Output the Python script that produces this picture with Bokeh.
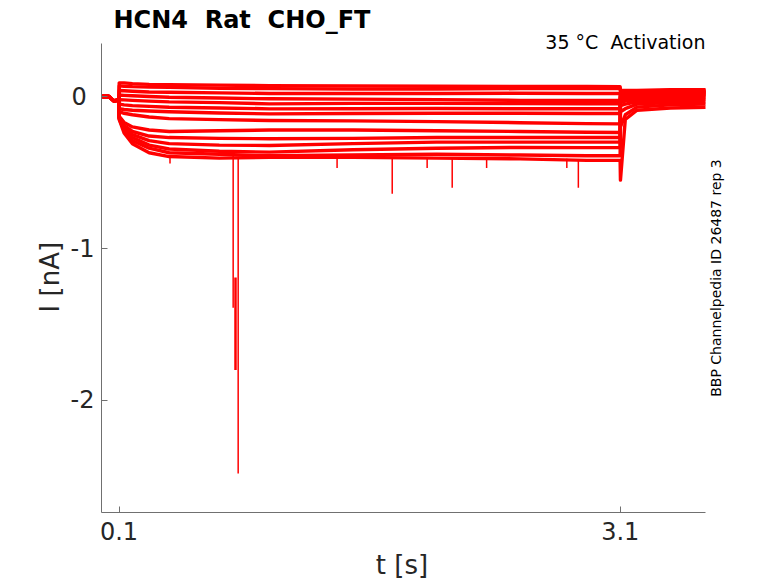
from bokeh.plotting import figure
from bokeh.models import Range1d, FixedTicker, Label, ColumnDataSource
from bokeh.embed import file_html
from bokeh.resources import INLINE
import math

# ---------------- data ----------------
# time knots (s)
pre_t = [0.0, 0.04, 0.07, 0.099]
pulse_t = [0.101, 0.13, 0.18, 0.28, 0.40, 0.70, 1.00, 1.50, 2.00, 2.50, 2.90, 3.099]
tail_t = [3.101, 3.13, 3.20, 3.40, 3.61]

# holding current before the step (nA), common to all sweeps
pre_i = [0.0, 0.0, -0.03, -0.02]

# each sweep: 12 values during the step, then 5 tail values (nA)
sweep_01 = [0.09, 0.09, 0.085, 0.08, 0.078, 0.075, 0.072, 0.07, 0.068, 0.066, 0.066, 0.065,
            0.04, 0.04, 0.04, 0.045, 0.045]
sweep_02 = [0.07, 0.068, 0.065, 0.062, 0.06, 0.055, 0.052, 0.05, 0.05, 0.052, 0.053, 0.053,
            0.035, 0.035, 0.035, 0.04, 0.04]
sweep_03 = [0.04, 0.038, 0.035, 0.03, 0.028, 0.024, 0.02, 0.02, 0.02, 0.022, 0.02, 0.02,
            0.03, 0.03, 0.03, 0.035, 0.035]
sweep_04 = [0.01, 0.008, 0.005, 0.0, -0.005, -0.01, -0.015, -0.017, -0.02, -0.025, -0.026, -0.026,
            0.025, 0.025, 0.025, 0.03, 0.03]
sweep_05 = [-0.02, -0.022, -0.025, -0.03, -0.035, -0.04, -0.048, -0.045, -0.045, -0.046, -0.047, -0.047,
            0.02, 0.02, 0.02, 0.025, 0.025]
sweep_06 = [-0.05, -0.055, -0.06, -0.065, -0.07, -0.075, -0.081, -0.08, -0.079, -0.08, -0.08, -0.08,
            0.01, 0.015, 0.015, 0.02, 0.02]
sweep_07 = [-0.08, -0.085, -0.09, -0.095, -0.1, -0.108, -0.114, -0.112, -0.11, -0.11, -0.112, -0.112,
            0.0, 0.005, 0.01, 0.015, 0.015]
sweep_08 = [-0.1, -0.11, -0.12, -0.135, -0.145, -0.152, -0.158, -0.16, -0.165, -0.172, -0.178, -0.18,
            -0.01, -0.005, 0.0, 0.005, 0.01]
sweep_09 = [-0.13, -0.17, -0.2, -0.22, -0.23, -0.225, -0.22, -0.22, -0.225, -0.23, -0.235, -0.237,
            -0.02, -0.015, -0.01, 0.0, 0.0]
sweep_10 = [-0.14, -0.19, -0.23, -0.26, -0.27, -0.275, -0.278, -0.275, -0.27, -0.27, -0.27, -0.27,
            -0.04, -0.03, -0.02, -0.01, -0.01]
sweep_11 = [-0.14, -0.2, -0.25, -0.29, -0.31, -0.32, -0.322, -0.31, -0.30, -0.30, -0.30, -0.30,
            -0.06, -0.05, -0.035, -0.025, -0.02]
sweep_12 = [-0.14, -0.21, -0.27, -0.32, -0.345, -0.36, -0.366, -0.35, -0.34, -0.335, -0.336, -0.336,
            -0.1, -0.08, -0.05, -0.04, -0.035]
sweep_13 = [-0.15, -0.22, -0.29, -0.34, -0.37, -0.38, -0.39, -0.385, -0.38, -0.385, -0.39, -0.39,
            -0.2, -0.12, -0.07, -0.055, -0.05]
sweep_14 = [-0.15, -0.24, -0.31, -0.37, -0.395, -0.405, -0.40, -0.40, -0.405, -0.41, -0.42, -0.42,
            -0.55, -0.15, -0.09, -0.075, -0.07]

# brief downward transients (time s, from nA, to nA)
spike_t = [0.405, 0.783, 0.813, 1.405, 1.735, 1.944, 2.094, 2.30, 2.78, 2.849]
spike_from = [-0.40, -0.37, -0.40, -0.40, -0.40, -0.40, -0.40, -0.40, -0.41, -0.42]
spike_to = [-0.44, -1.39, -2.48, -0.47, -0.64, -0.47, -0.60, -0.47, -0.47, -0.60]
burst_t = [0.797]
burst_from = [-1.19]
burst_to = [-1.80]

x_ticks = [0.1, 3.1]
x_tick_labels = ["0.1", "3.1"]
y_ticks = [-2, -1, 0]
y_tick_labels = ["-2", "-1", "0\u00a0"]
x_limits = (-0.005, 3.61)
y_limits = (-2.737, 0.349)

title_text = "HCN4\u00a0 Rat\u00a0 CHO_FT"
condition_text = "35 \u00b0C\u00a0 Activation"
id_text = "BBP Channelpedia ID 26487 rep 3"
x_label = "t [s]"
y_label = "I [nA]"

# ---------------- layout ----------------
FONT = "DejaVu Sans"
AX = "#707070"
TXT = "#262626"

AXES_W, AXES_H = 604, 469          # visible axes box (px)
EXTRA_TOP = 10                     # frame reaches a little above the axes box
EXTRA_RIGHT = 30                   # ... and a little right of it, for the record id
px_x = AXES_W / (x_limits[1] - x_limits[0])
px_y = AXES_H / (y_limits[1] - y_limits[0])
x_range = Range1d(x_limits[0], x_limits[1] + EXTRA_RIGHT / px_x)
y_range = Range1d(y_limits[0], y_limits[1] + EXTRA_TOP / px_y)

p = figure(frame_width=AXES_W + EXTRA_RIGHT, frame_height=AXES_H + EXTRA_TOP,
           min_border_left=101, min_border_right=72 - EXTRA_RIGHT,
           min_border_top=43 - EXTRA_TOP, min_border_bottom=70,
           x_range=x_range, y_range=y_range,
           output_backend="svg", toolbar_location=None)
p.xgrid.visible = False
p.ygrid.visible = False
p.outline_line_color = None
p.background_fill_color = "white"
p.border_fill_color = "white"

p.title.text = title_text
p.title.align = "left"
p.title.offset = 12
p.title.standoff = 0
p.title.text_font = FONT
p.title.text_font_size = "24px"
p.title.text_font_style = "bold"
p.title.text_color = "#000000"

sweeps = [sweep_01, sweep_02, sweep_03, sweep_04, sweep_05, sweep_06, sweep_07,
          sweep_08, sweep_09, sweep_10, sweep_11, sweep_12, sweep_13, sweep_14]
full_t = pre_t + pulse_t + tail_t
src = ColumnDataSource(dict(xs=[full_t for _ in sweeps], ys=[pre_i + s for s in sweeps]))
p.multi_line(xs="xs", ys="ys", source=src, line_color="#ff0000", line_width=3.4,
             line_join="round")
p.segment(x0=spike_t, y0=spike_from, x1=spike_t, y1=spike_to, line_color="#ff0000", line_width=1.5)
p.segment(x0=burst_t, y0=burst_from, x1=burst_t, y1=burst_to, line_color="#ff0000", line_width=2.5)

for ax in (p.xaxis[0], p.yaxis[0]):
    ax.axis_line_color = AX
    ax.major_tick_line_color = AX
    ax.minor_tick_line_color = None
    ax.major_tick_in = 6
    ax.major_tick_out = 0
    ax.major_label_text_font = FONT
    ax.major_label_text_font_size = "24px"
    ax.major_label_text_color = TXT
    ax.axis_label_text_font = FONT
    ax.axis_label_text_font_size = "26px"
    ax.axis_label_text_font_style = "normal"
    ax.axis_label_text_color = TXT

p.xaxis.ticker = FixedTicker(ticks=x_ticks)
p.xaxis.major_label_overrides = {t: l for t, l in zip(x_ticks, x_tick_labels)}
p.xaxis.major_label_standoff = 9
p.xaxis.bounds = x_limits
p.xaxis.axis_label = x_label + "\u00a0\u00a0\u00a0\u00a0"
p.xaxis.axis_label_standoff = 7

p.yaxis.ticker = FixedTicker(ticks=y_ticks)
p.yaxis.major_label_overrides = {t: l for t, l in zip(y_ticks, y_tick_labels)}
p.yaxis.major_label_standoff = 7
p.yaxis.bounds = y_limits
p.yaxis.axis_label = y_label + "\u00a0"
p.yaxis.axis_label_standoff = 3

# condition text inside the (slightly taller) frame
p.add_layout(Label(x=AXES_W, y=AXES_H + EXTRA_TOP - 8.5, x_units="screen", y_units="screen",
                   text=condition_text, text_font=FONT, text_font_size="19px",
                   text_color="#000000", text_align="right", text_baseline="alphabetic"))

# record id, written upward just right of the axes box
p.add_layout(Label(x=AXES_W + 10, y=234.5, x_units="screen", y_units="screen",
                   text=id_text, angle=math.pi / 2, text_font=FONT, text_font_size="14px",
                   text_color="#000000", text_align="center", text_baseline="alphabetic"))

open("out.html", "w").write(file_html(p, INLINE))
